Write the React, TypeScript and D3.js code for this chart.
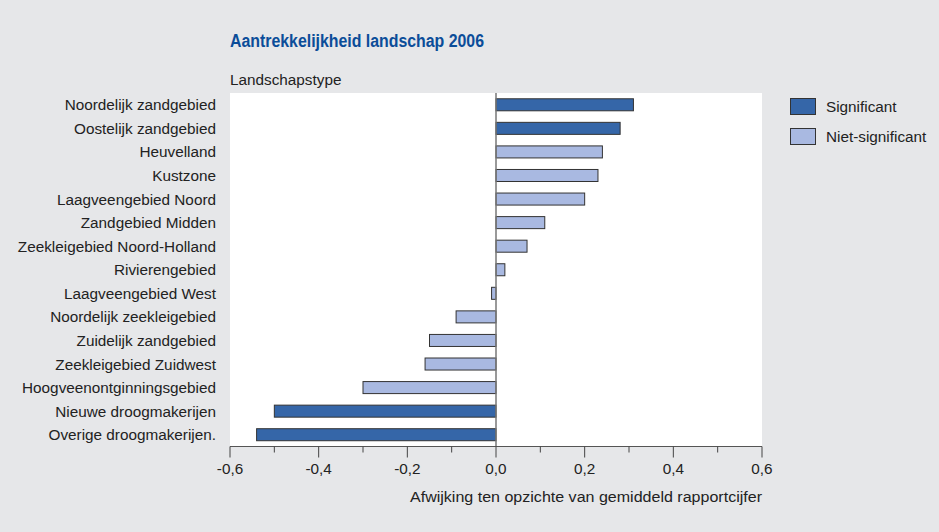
import React from "react";
import * as d3 from "d3";

const categories = [
  "Noordelijk zandgebied",
  "Oostelijk zandgebied",
  "Heuvelland",
  "Kustzone",
  "Laagveengebied Noord",
  "Zandgebied Midden",
  "Zeekleigebied Noord-Holland",
  "Rivierengebied",
  "Laagveengebied West",
  "Noordelijk zeekleigebied",
  "Zuidelijk zandgebied",
  "Zeekleigebied Zuidwest",
  "Hoogveenontginningsgebied",
  "Nieuwe droogmakerijen",
  "Overige droogmakerijen.",
];
const values = [0.31, 0.28, 0.24, 0.23, 0.2, 0.11, 0.07, 0.02, -0.01, -0.09, -0.15, -0.16, -0.3, -0.5, -0.54];
const significant = [true, true, false, false, false, false, false, false, false, false, false, false, false, true, true];
const majorTicks = [-0.6, -0.4, -0.2, 0, 0.2, 0.4, 0.6];
const minorTicks = [-0.5, -0.3, -0.1, 0.1, 0.3, 0.5];
const legendItems = ["Significant", "Niet-significant"];

const W = 939;
const H = 532;
const font = "'Liberation Sans Narrow', 'Arial Narrow', 'Liberation Sans', Arial, sans-serif";
const colSig = "#3566a8";
const colNon = "#a9b9e1";
const fs = 15.3;

export default function App() {
  const left = 230, right = 762, top = 93, bottom = 446.5;
  const x = d3.scaleLinear().domain([-0.6, 0.6]).range([left, right]);
  const y = d3.scaleBand().domain(categories).range([top, bottom]).paddingInner(0.49).paddingOuter(0.245);
  const fmt = (v: number) => d3.format(".1f")(v).replace(".", ",").replace("−", "-");
  return (
    <div style={{ position: "absolute", left: 0, top: 0 }}>
      <svg width={W} height={H} style={{ display: "block" }}>
        <rect x={0} y={0} width={W} height={H} fill="#e6e7e9" />
        <text x={230} y={47} fontFamily={font} fontWeight="bold" fontSize={18} fill="#0b4d99" textLength={254} lengthAdjust="spacingAndGlyphs">
          Aantrekkelijkheid landschap 2006
        </text>
        <text x={230} y={85} fontFamily={font} fontSize={fs} fill="#222">
          Landschapstype
        </text>
        <rect x={left} y={top} width={right - left} height={bottom - top} fill="#fff" />
        {categories.map((c, i) => {
          const v = values[i];
          const x0 = x(Math.min(0, v));
          const x1 = x(Math.max(0, v));
          return (
            <g key={c}>
              <rect
                x={x0}
                y={y(c)!}
                width={x1 - x0}
                height={y.bandwidth()}
                fill={significant[i] ? colSig : colNon}
                stroke="#333"
                strokeWidth={1}
              />
              <text
                x={216}
                y={y(c)! + y.bandwidth() / 2}
                dy="0.36em"
                textAnchor="end"
                fontFamily={font}
                fontSize={fs}
                fill="#222"
              >
                {c}
              </text>
            </g>
          );
        })}
        <line x1={x(0)} x2={x(0)} y1={top} y2={bottom} stroke="#777" strokeWidth={1.5} />
        <line x1={left} x2={right} y1={bottom} y2={bottom} stroke="#555" strokeWidth={1} />
        {majorTicks.map((t) => (
          <g key={"M" + t}>
            <line x1={x(t)} x2={x(t)} y1={bottom} y2={bottom + 11} stroke="#444" strokeWidth={1} />
            <text x={x(t)} y={474} textAnchor="middle" fontFamily={font} fontSize={fs} fill="#222">
              {fmt(t)}
            </text>
          </g>
        ))}
        {minorTicks.map((t) => (
          <line key={"m" + t} x1={x(t)} x2={x(t)} y1={bottom} y2={bottom + 6} stroke="#444" strokeWidth={1} />
        ))}
        <text x={right} y={502} textAnchor="end" fontFamily={font} fontSize={fs} fill="#222" textLength={352} lengthAdjust="spacingAndGlyphs">
          Afwijking ten opzichte van gemiddeld rapportcijfer
        </text>
        {legendItems.map((l, i) => (
          <g key={l}>
            <rect x={790.5} y={98.5 + i * 30} width={25} height={16} fill={i === 0 ? colSig : colNon} stroke="#333" />
            <text x={826} y={106.5 + i * 30} dy="0.36em" fontFamily={font} fontSize={fs} fill="#222">
              {l}
            </text>
          </g>
        ))}
      </svg>
    </div>
  );
}
